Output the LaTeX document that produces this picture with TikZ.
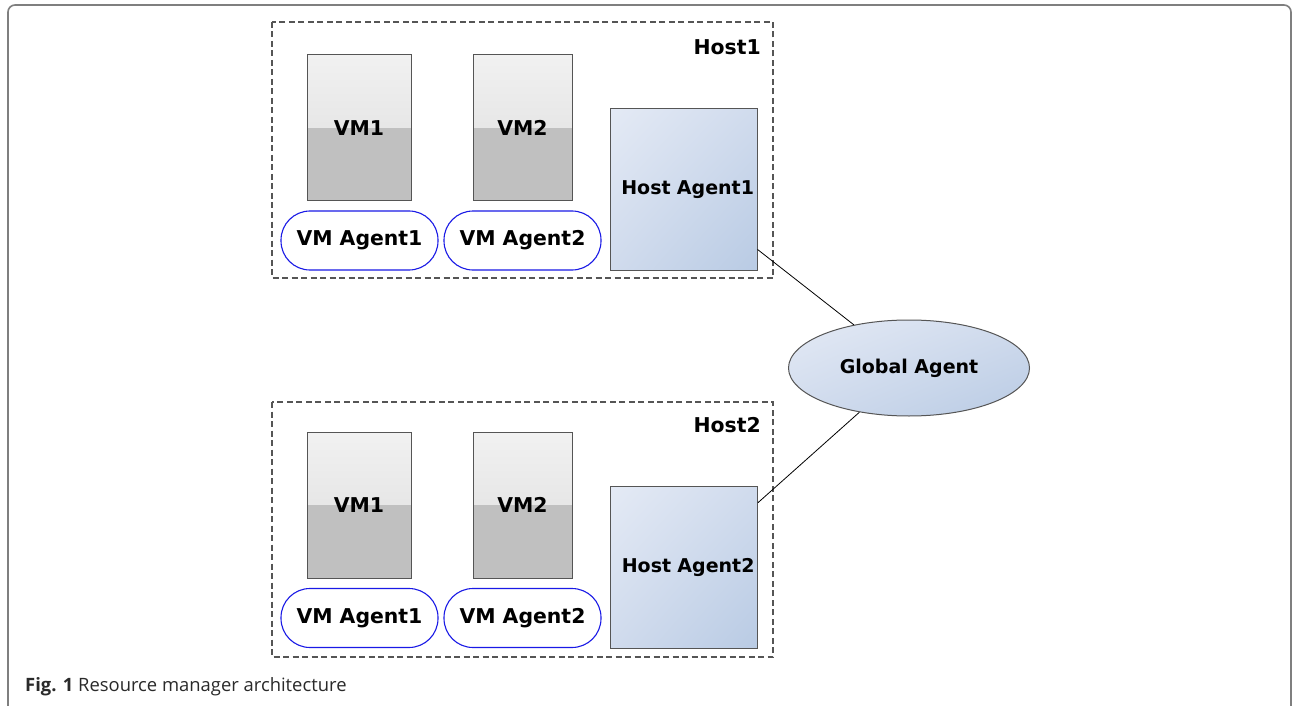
\documentclass[tikz,border=0pt]{standalone}
\usepackage{fontspec}
\setmainfont{DejaVu Sans}
\newfontfamily\capfont{Open Sans}
\usetikzlibrary{shapes.geometric,shadings}
\definecolor{framegray}{HTML}{7F7F7F}
\definecolor{hostline}{HTML}{555555}
\definecolor{vmtop}{HTML}{F1F1F1}
\definecolor{vmmid}{HTML}{DCDCDC}
\definecolor{vmlow}{HTML}{C0C0C0}
\definecolor{vmedge}{HTML}{555555}
\definecolor{agblue}{HTML}{1A1AE6}
\definecolor{hlight}{HTML}{E4EAF5}
\definecolor{hmid}{HTML}{D0DBED}
\definecolor{hdark}{HTML}{B9CBE4}
\definecolor{captext}{HTML}{2A2A2A}
\tikzset{
  lbl/.style={font=\bfseries\fontsize{20.4}{23}\selectfont},
  lblsmall/.style={font=\bfseries\fontsize{19}{22}\selectfont},
  vmbox/.style={lbl, draw=vmedge, line width=1pt, minimum width=#1, minimum height=146pt, inner sep=0pt,
    path picture={
      \shade[top color=vmtop, bottom color=vmmid]
        (path picture bounding box.north west) rectangle (path picture bounding box.east);
      \fill[vmlow]
        (path picture bounding box.west) rectangle (path picture bounding box.south east);
    }},
  vmagent/.style={lbl, draw=agblue, line width=1.1pt, fill=white, rounded corners=29pt,
    minimum width=157pt, minimum height=59pt, inner sep=0pt},
  bluefill/.style={upper left=hlight, upper right=hmid, lower left=hmid, lower right=hdark},
  hostagent/.style={lblsmall, draw=vmedge, line width=1pt, text width=141pt, align=right,
    inner xsep=3pt, inner ysep=0pt, minimum height=#1, bluefill},
  hostbox/.style={draw=hostline, line width=1.2pt, dash pattern=on 6pt off 3.5pt},
  hostname/.style={lbl, anchor=north east, inner sep=0pt},
  link/.style={draw=black, line width=0.8pt},
}
\begin{document}
\begin{tikzpicture}[x=1pt, y=-1pt]
\useasboundingbox (0,0) rectangle (1294,706);
\fill[white] (0,0) rectangle (1294,706);

% outer figure frame
\draw[framegray, line width=1.6pt, rounded corners=7pt]
  (8,706) -- (8,5) -- (1291,5) -- (1291,706);

% ---------- Host 1 ----------
\draw[hostbox] (272,22) rectangle (773,278);
\node[hostname] (h1name) at (761,39) {Host1};
\node[vmbox=104pt] (h1vm1) at (359,128) {VM1};
\node[vmbox=99pt]  (h1vm2) at (522.5,128) {VM2};
\node[vmagent] (h1ag1) at (359.5,240.5) {VM Agent1};
\node[vmagent] (h1ag2) at (522.5,240.5) {VM Agent2};
\node[hostagent=161pt] (ha1) at (683.5,189.5) {Host Agent1};

% ---------- Host 2 ----------
\draw[hostbox] (272,402) rectangle (773,657);
\node[hostname] (h2name) at (761,417) {Host2};
\node[vmbox=104pt] (h2vm1) at (359,505) {VM1};
\node[vmbox=99pt]  (h2vm2) at (522.5,505) {VM2};
\node[vmagent] (h2ag1) at (359.5,618) {VM Agent1};
\node[vmagent] (h2ag2) at (522.5,618) {VM Agent2};
\node[hostagent=162pt] (ha2) at (684,567) {Host Agent2};

% ---------- Global agent ----------
\node[lblsmall, ellipse, draw=vmedge, line width=1pt, minimum width=241pt, minimum height=96pt, inner sep=0pt,
      bluefill] (ga) at (909,368) {Global Agent};

\draw[link] (ha1.-39.5) -- (ga);
\draw[link] (ha2.41.7) -- (ga);

% caption
\node[anchor=base west, inner sep=0pt, text=captext, font=\capfont\fontsize{18.4}{21}\selectfont] (cap) at (25,691)
  {\textbf{Fig. 1} Resource manager architecture};
\end{tikzpicture}
\end{document}
